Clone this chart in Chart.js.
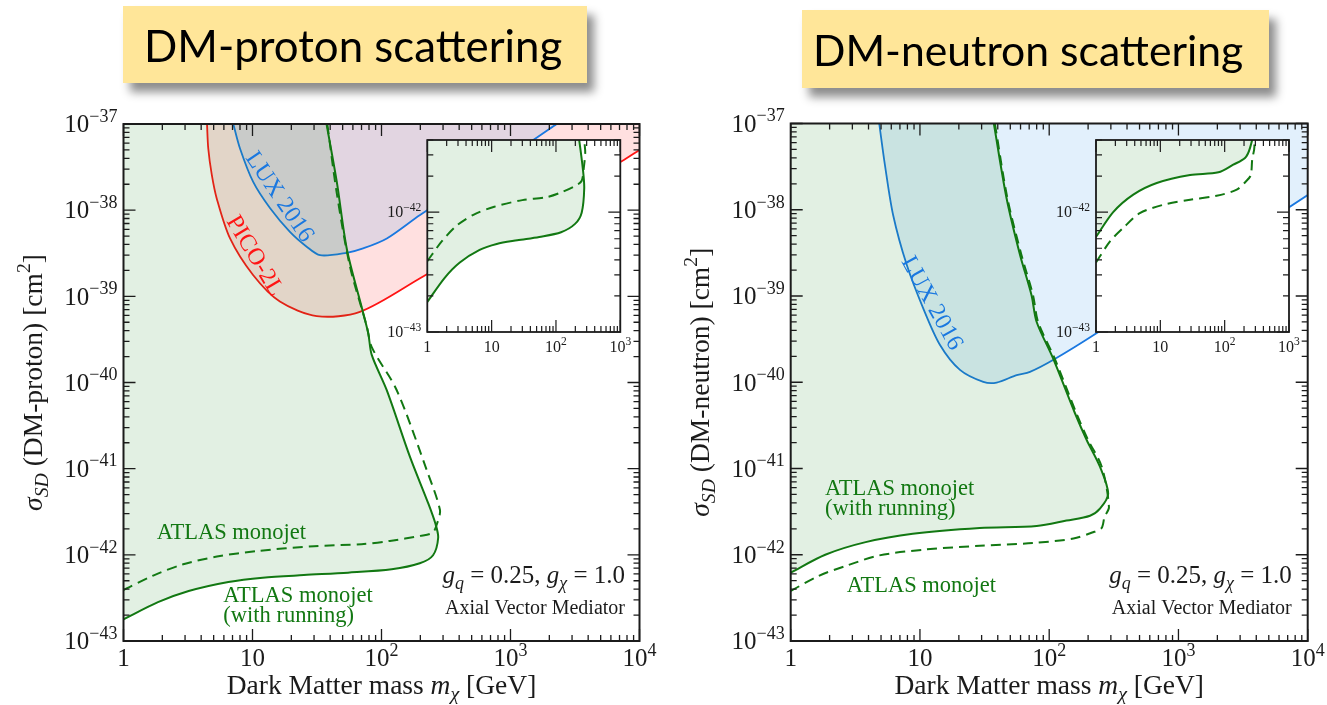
<!DOCTYPE html>
<html>
<head>
<meta charset="utf-8">
<script src="https://cdn.jsdelivr.net/npm/chart.js@4.4.1/dist/chart.umd.min.js"></script>
<style>
  body { margin: 0; width: 1327px; height: 705px; overflow: hidden; position: relative; background: #fff; }
  canvas { position: absolute; }
  .tbox { position: absolute; background: #ffe699; box-shadow: 7px 9px 9px rgba(0,0,0,0.45);
          display: flex; align-items: center; font-family: Lato, "Open Sans", sans-serif; color: #000; z-index: 5; }
  .tbox span { white-space: nowrap; }
</style>
</head>
<body>
<div class="tbox" style="left:123px;top:6px;width:464px;height:77px;padding-left:21px;box-sizing:border-box"><span data-w="418">DM-proton scattering</span></div>
<div class="tbox" style="left:802px;top:10px;width:467px;height:78px;padding-left:11px;box-sizing:border-box"><span data-w="430">DM-neutron scattering</span></div>

<canvas id="protonMain" width="663" height="705" style="left:0;top:0"></canvas>
<canvas id="neutronMain" width="664" height="705" style="left:663px;top:0"></canvas>
<canvas id="protonInset" width="260" height="230" style="left:380px;top:130px"></canvas>
<canvas id="neutronInset" width="260" height="230" style="left:1049px;top:130px"></canvas>

<script>
// ---------- data (mass in GeV, cross section in cm^2) ----------

// DM-proton: ATLAS monojet with running (solid) and without (dashed)
const protonRunMass = [1, 1.85, 3.2, 6.5, 12, 25, 55, 120, 198, 251, 275, 262, 230, 166, 110, 84, 79, 70, 54, 45, 37.5];
const protonRunXsec = [1.78e-43, 2.82e-43, 3.8e-43, 4.84e-43, 5.43e-43, 5.82e-43, 6.21e-43, 6.8e-43, 7.98e-43, 9.9e-43,
                       1.58e-42, 2.29e-42, 3.98e-42, 1.38e-41, 8.1e-41, 2.09e-40, 3.7e-40, 7.6e-40, 3.47e-39, 2.14e-38, 1e-37];
const protonMass = [1, 1.7, 2.9, 5.3, 11, 30, 70, 116, 200, 250, 272, 284, 224, 131, 84, 77, 57, 45, 38];
const protonXsec = [3.9e-43, 5.75e-43, 7.76e-43, 9.55e-43, 1.11e-42, 1.26e-42, 1.33e-42, 1.45e-42, 1.66e-42, 1.82e-42,
                    2.4e-42, 3.31e-42, 9.66e-42, 8.18e-41, 2.57e-40, 4.47e-40, 2.21e-39, 1.58e-38, 1e-37];
// DM-proton: direct detection
const picoMass = [4.44, 4.54, 4.83, 5.28, 6.7, 10.1, 16.3, 31.5, 68, 199, 7278, 10000];
const picoXsec = [1e-37, 5.2e-38, 2.6e-38, 1.37e-38, 4.7e-39, 1.77e-39, 8.7e-40, 5.9e-40, 6.6e-40, 1.62e-39, 3.7e-38, 5e-38];
const luxProtonMass = [7.1, 8.0, 10.1, 13.7, 19.5, 26.3, 33.4, 53.7, 72, 110, 199, 1500, 2280];
const luxProtonXsec = [1e-37, 5.2e-38, 2.14e-38, 1.05e-38, 5.6e-39, 3.77e-39, 3.0e-39, 3.2e-39, 3.6e-39, 4.7e-39, 8.8e-39, 6.5e-38, 1e-37];

// DM-neutron: ATLAS monojet with running (solid) and without (dashed)
const neutronRunMass = [1, 1.85, 3.8, 8.8, 29, 80, 136, 207, 248, 286, 247, 195, 158, 107, 80, 73, 59.5, 46.8, 37.3];
const neutronRunXsec = [6.2e-43, 1.0e-42, 1.4e-42, 1.75e-42, 2.04e-42, 2.15e-42, 2.49e-42, 2.83e-42, 3.44e-42, 5.1e-42,
                        1.05e-41, 2.14e-41, 4.4e-41, 1.9e-40, 5.0e-40, 1.02e-39, 2.99e-39, 1.36e-38, 1e-37];
const neutronMass = [1, 1.65, 2.66, 4.8, 11, 29, 75, 154, 215, 254, 268, 290, 255, 200, 162, 110, 82, 75, 61, 47.5, 38];
const neutronXsec = [3.8e-43, 5.7e-43, 7.4e-43, 9.8e-43, 1.15e-42, 1.27e-42, 1.37e-42, 1.54e-42, 1.81e-42, 2.03e-42,
                     2.75e-42, 3.55e-42, 1.05e-41, 2.14e-41, 4.4e-41, 1.9e-40, 5.0e-40, 1.02e-39, 2.99e-39, 1.36e-38, 1e-37];
const luxNeutronMass = [4.84, 5.36, 6.2, 7.9, 10.6, 14.3, 20.4, 30.9, 39.2, 56, 71, 107, 232, 10000];
const luxNeutronXsec = [1e-37, 3.3e-38, 8.7e-39, 2.3e-39, 7.2e-40, 2.7e-40, 1.39e-40, 1.01e-40, 9.9e-41, 1.21e-40, 1.32e-40, 1.81e-40, 3.7e-40, 1.48e-38];

// axes
const massTicks = [1, 10, 100, 1000, 10000];
const massTickLabels = ['1', '10', '10^2', '10^3', '10^4'];
const xsecTicks = [1e-43, 1e-42, 1e-41, 1e-40, 1e-39, 1e-38, 1e-37];
const xsecTickLabels = ['10^\u221243', '10^\u221242', '10^\u221241', '10^\u221240', '10^\u221239', '10^\u221238', '10^\u221237'];
const insetMassTicks = [1, 10, 100, 1000];
const insetMassTickLabels = ['1', '10', '10^2', '10^3'];
const insetXsecTicks = [1e-43, 1e-42];
const insetXsecTickLabels = ['10^\u221243', '10^\u221242'];

// ---------- styles ----------
const INK = '#1b1b1b';
const SERIF = '"Liberation Serif", "DejaVu Serif", serif';
const GREEN = '#127812';
const GREEN_FILL = 'rgba(30,140,40,0.13)';
const RED = '#ff1414';
const RED_FILL = 'rgba(255,0,0,0.12)';
const BLUE = '#1a78e0';
const BLUE_FILL = 'rgba(30,136,229,0.13)';

// fit title text widths
document.querySelectorAll('.tbox span').forEach(s => {
    s.style.fontSize = '40px';
    const w = s.getBoundingClientRect().width;
    s.style.fontSize = (40 * (+s.dataset.w) / w).toFixed(1) + 'px';
});

function parseTick(label) {
    const [base, exp] = label.split('^');
    return exp ? [{ t: base }, { t: exp, s: 'sup' }] : [{ t: base }];
}

// draw a run of text pieces (italic / sub / sup) starting at baseline y
function drawRich(ctx, parts, x, y, size, align, bold) {
    const runs = parts.map(p => {
        const sz = p.s ? size * 0.72 : size;
        const font = `${p.i ? 'italic ' : ''}${bold ? 'bold ' : ''}${sz}px ${SERIF}`;
        ctx.font = font;
        return { p, font, w: ctx.measureText(p.t).width };
    });
    const total = runs.reduce((s, r) => s + r.w, 0);
    let cx = align === 'right' ? x - total : align === 'center' ? x - total / 2 : x;
    ctx.textAlign = 'left';
    ctx.textBaseline = 'alphabetic';
    for (const r of runs) {
        ctx.font = r.font;
        const dy = r.p.s === 'sup' ? -size * 0.42 : r.p.s === 'sub' ? size * 0.22 : 0;
        ctx.fillText(r.p.t, cx, y + dy);
        cx += r.w;
    }
}

function logSteps(min, max) {
    const out = [];
    for (let e = Math.floor(Math.log10(min)); e <= Math.ceil(Math.log10(max)); e++) {
        for (let k = 1; k <= 9; k++) {
            const v = k * Math.pow(10, e);
            if (v >= min * 0.999 && v <= max * 1.001) out.push({ v, major: k === 1 });
        }
    }
    return out;
}

// frame, inward ticks on all sides, labels and notes
const framePlugin = {
    id: 'frame',
    beforeDraw(chart, args, o) {
        if (!o.background) return;
        const { ctx, chartArea: a } = chart;
        ctx.save();
        ctx.fillStyle = o.background;
        ctx.fillRect(a.left, a.top, a.right - a.left, a.bottom - a.top);
        ctx.restore();
    },
    afterDraw(chart, args, o) {
        const { ctx, chartArea: a, scales: { x, y } } = chart;
        ctx.save();
        ctx.strokeStyle = INK;
        ctx.lineWidth = o.tickWidth;
        ctx.beginPath();
        for (const t of logSteps(x.min, x.max)) {
            const px = x.getPixelForValue(t.v);
            const len = t.major ? o.major : o.minor;
            ctx.moveTo(px, a.bottom); ctx.lineTo(px, a.bottom - len);
            ctx.moveTo(px, a.top); ctx.lineTo(px, a.top + len);
        }
        for (const t of logSteps(y.min, y.max)) {
            const py = y.getPixelForValue(t.v);
            const len = t.major ? o.major : o.minor;
            ctx.moveTo(a.left, py); ctx.lineTo(a.left + len, py);
            ctx.moveTo(a.right, py); ctx.lineTo(a.right - len, py);
        }
        ctx.stroke();
        ctx.lineWidth = o.borderWidth;
        ctx.strokeRect(a.left, a.top, a.right - a.left, a.bottom - a.top);

        ctx.fillStyle = INK;
        o.xTicks.forEach((v, i) => drawRich(ctx, parseTick(o.xLabels[i]), x.getPixelForValue(v), a.bottom + o.xLabelDy, o.tickSize, 'center'));
        o.yTicks.forEach((v, i) => drawRich(ctx, parseTick(o.yLabels[i]), a.left - o.yLabelDx, y.getPixelForValue(v) + o.tickSize * 0.33, o.tickSize, 'right'));

        if (o.xTitle) drawRich(ctx, o.xTitle, (a.left + a.right) / 2, a.bottom + o.xTitleDy, o.titleSize, 'center');
        if (o.yTitle) {
            ctx.save();
            ctx.translate(a.left + o.yTitleDx, (a.top + a.bottom) / 2);
            ctx.rotate(-Math.PI / 2);
            drawRich(ctx, o.yTitle, 0, 0, o.titleSize, 'center');
            ctx.restore();
        }
        for (const n of o.notes || []) {
            ctx.save();
            ctx.fillStyle = n.color || INK;
            ctx.translate(x.getPixelForValue(n.at[0]), y.getPixelForValue(n.at[1]));
            if (n.rot) ctx.rotate(n.rot * Math.PI / 180);
            drawRich(ctx, n.parts, 0, n.rot ? n.size * 0.33 : 0, n.size, n.align, n.bold);
            ctx.restore();
        }
        ctx.restore();
    }
};

function series(mass, xsec, style) {
    return Object.assign({
        data: mass.map((m, i) => ({ x: m, y: xsec[i] })),
        pointRadius: 0, tension: 0.3, fill: false, borderWidth: 2
    }, style);
}

function atlasSets(runMass, runXsec, mass, xsec) {
    return [
        series(runMass, runXsec, { indexAxis: 'y', borderColor: GREEN, backgroundColor: GREEN_FILL, fill: { value: 1 } }),
        series(mass, xsec, { indexAxis: 'y', borderColor: GREEN, borderDash: [10, 6] })
    ];
}

function makeChart(id, datasets, xRange, yRange, padding, frame) {
    return new Chart(document.getElementById(id), {
        type: 'line',
        data: { datasets },
        options: {
            responsive: false,
            animation: false,
            events: [],
            layout: { padding },
            scales: {
                x: { type: 'logarithmic', min: xRange[0], max: xRange[1], display: false },
                y: { type: 'logarithmic', min: yRange[0], max: yRange[1], display: false }
            },
            plugins: { legend: { display: false }, tooltip: { enabled: false }, frame }
        },
        plugins: [framePlugin]
    });
}

const mainFrame = {
    xTicks: massTicks, xLabels: massTickLabels, yTicks: xsecTicks, yLabels: xsecTickLabels,
    tickSize: 25, major: 12, minor: 6, tickWidth: 1.3, borderWidth: 2,
    xLabelDy: 25, yLabelDx: 6, titleSize: 27.5, xTitleDy: 53, yTitleDx: -82,
    xTitle: [{ t: 'Dark Matter mass ' }, { t: 'm', i: 1 }, { t: '\u03c7', i: 1, s: 'sub' }, { t: ' [GeV]' }]
};
const insetFrame = {
    xTicks: insetMassTicks, xLabels: insetMassTickLabels, yTicks: insetXsecTicks, yLabels: insetXsecTickLabels,
    tickSize: 16, major: 12, minor: 6, tickWidth: 1.2, borderWidth: 1.8,
    xLabelDy: 20, yLabelDx: 6, background: '#fff'
};
const couplings = [{ t: 'g', i: 1 }, { t: 'q', i: 1, s: 'sub' }, { t: ' = 0.25, ' }, { t: 'g', i: 1 }, { t: '\u03c7', i: 1, s: 'sub' }, { t: ' = 1.0' }];
const mediator = [{ t: 'Axial Vector Mediator' }];

// DM-proton panel
makeChart('protonMain', [
    ...atlasSets(protonRunMass, protonRunXsec, protonMass, protonXsec),
    series(luxProtonMass, luxProtonXsec, { borderColor: BLUE, borderWidth: 1.8, backgroundColor: BLUE_FILL, fill: 'end' }),
    series(picoMass, picoXsec, { borderColor: RED, borderWidth: 1.8, backgroundColor: RED_FILL, fill: 'end' })
], [1, 1e4], [1e-43, 1e-37], { left: 123.5, top: 124, right: 23.5, bottom: 64 }, {
    ...mainFrame,
    yTitle: [{ t: '\u03c3', i: 1 }, { t: 'SD', i: 1, s: 'sub' }, { t: ' (DM-proton) [cm' }, { t: '2', s: 'sup' }, { t: ']' }],
    notes: [
        { parts: [{ t: 'ATLAS monojet' }], at: [1.81, 1.52e-42], size: 22.5, align: 'left', color: GREEN },
        { parts: [{ t: 'ATLAS monojet' }], at: [5.94, 2.86e-43], size: 22.5, align: 'left', color: GREEN },
        { parts: [{ t: '(with running)' }], at: [5.94, 1.67e-43], size: 22.5, align: 'left', color: GREEN },
        { parts: [{ t: 'LUX 2016' }], at: [16.5, 1.45e-38], size: 24, align: 'center', color: BLUE, rot: 56 },
        { parts: [{ t: 'PICO-2L' }], at: [10.6, 3.0e-39], size: 24, align: 'center', color: RED, rot: 59 },
        { parts: couplings, at: [7720, 4.71e-43], size: 25, align: 'right' },
        { parts: mediator, at: [7720, 2.06e-43], size: 20, align: 'right' }
    ]
});
makeChart('protonInset', atlasSets(protonRunMass, protonRunXsec, protonMass, protonXsec),
    [1, 1000], [1e-43, 4e-42], { left: 47.3, top: 10, right: 19.7, bottom: 28 }, insetFrame);

// DM-neutron panel
makeChart('neutronMain', [
    ...atlasSets(neutronRunMass, neutronRunXsec, neutronMass, neutronXsec),
    series(luxNeutronMass, luxNeutronXsec, { borderColor: BLUE, borderWidth: 1.8, backgroundColor: BLUE_FILL, fill: 'end' })
], [1, 1e4], [1e-43, 1e-37], { left: 127.7, top: 123.5, right: 19.3, bottom: 64 }, {
    ...mainFrame,
    yTitle: [{ t: '\u03c3', i: 1 }, { t: 'SD', i: 1, s: 'sub' }, { t: ' (DM-neutron) [cm' }, { t: '2', s: 'sup' }, { t: ']' }],
    notes: [
        { parts: [{ t: 'ATLAS monojet' }], at: [1.84, 4.93e-42], size: 22.5, align: 'left', color: GREEN },
        { parts: [{ t: '(with running)' }], at: [1.84, 2.89e-42], size: 22.5, align: 'left', color: GREEN },
        { parts: [{ t: 'ATLAS monojet' }], at: [2.71, 3.73e-43], size: 22.5, align: 'left', color: GREEN },
        { parts: [{ t: 'LUX 2016' }], at: [12.6, 8.4e-40], size: 24, align: 'center', color: BLUE, rot: 61 },
        { parts: couplings, at: [7530, 4.7e-43], size: 25, align: 'right' },
        { parts: mediator, at: [7530, 2.06e-43], size: 20, align: 'right' }
    ]
});
makeChart('neutronInset', atlasSets(neutronRunMass, neutronRunXsec, neutronMass, neutronXsec),
    [1, 1000], [1e-43, 4e-42], { left: 47, top: 10, right: 20, bottom: 28 }, insetFrame);
</script>
</body>
</html>
